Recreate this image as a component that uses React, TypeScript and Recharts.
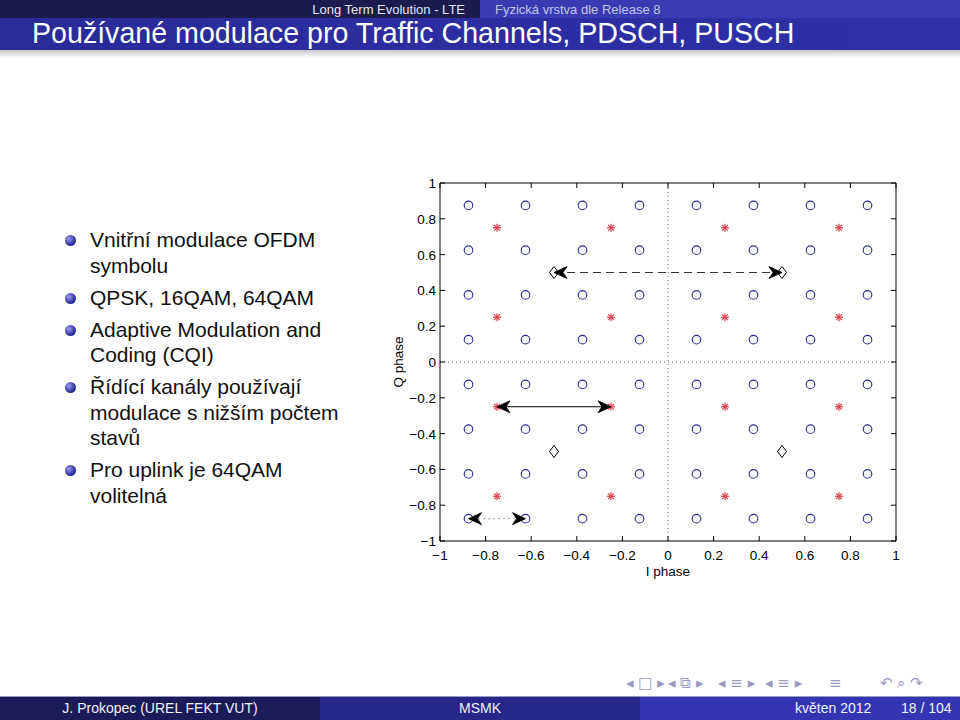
import {
  ReferenceLine,
  Scatter,
  ScatterChart,
  XAxis,
  YAxis,
} from "recharts";

// constellation levels (I and Q use the same set)
const qam64Levels = [-0.875, -0.625, -0.375, -0.125, 0.125, 0.375, 0.625, 0.875];
const qam16Levels = [-0.75, -0.25, 0.25, 0.75];
const qpskLevels = [-0.5, 0.5];

// double arrows drawn over the plot: dir is where each head points
const arrowDashed = [
  { x: -0.5, y: 0.5, dir: -1 },
  { x: 0.5, y: 0.5, dir: 1 },
];
const arrowSolid = [
  { x: -0.75, y: -0.25, dir: -1 },
  { x: -0.25, y: -0.25, dir: 1 },
];
const arrowDotted = [
  { x: -0.875, y: -0.875, dir: -1 },
  { x: -0.625, y: -0.875, dir: 1 },
];

const axisTicks = [-1, -0.8, -0.6, -0.4, -0.2, 0, 0.2, 0.4, 0.6, 0.8, 1];

const bullets = [
  ["Vnitřní modulace OFDM", "symbolu"],
  ["QPSK, 16QAM, 64QAM"],
  ["Adaptive Modulation and", "Coding (CQI)"],
  ["Řídící kanály používají", "modulace s nižším počtem", "stavů"],
  ["Pro uplink je 64QAM", "volitelná"],
];

// beamer navigation symbols: [left x, glyphs]
const navGroups: [number, string][] = [
  [626, "◂ □ ▸"],
  [668, "◂ ⧉ ▸"],
  [718, "◂ ≡ ▸"],
  [765, "◂ ≡ ▸"],
  [829, "≡"],
  [880, "↶ ⌕ ↷"],
];

const grid = (levels: number[]) =>
  levels.flatMap((i) => levels.map((q) => ({ x: i, y: q })));

const fmt = (v: number) =>
  v === 0 ? "0" : (v < 0 ? "\u2212" : "") + String(Math.abs(v));

const SANS = '"Liberation Sans", Arial, Helvetica, sans-serif';
const TICK = 5;
const FS = 13.5;

// MATLAB style: ticks point into the box, labels outside
const BottomTick = (p: any) => (
  <g>
    <line x1={p.x} y1={p.y} x2={p.x} y2={p.y - TICK} stroke="#000" />
    <text x={p.x} y={p.y + 19} textAnchor="middle" fontSize={FS} fontFamily={SANS} fill="#000">
      {fmt(p.payload.value)}
    </text>
  </g>
);
const LeftTick = (p: any) => (
  <g>
    <line x1={p.x} y1={p.y} x2={p.x + TICK} y2={p.y} stroke="#000" />
    <text x={p.x - 4} y={p.y + 5} textAnchor="end" fontSize={FS} fontFamily={SANS} fill="#000">
      {fmt(p.payload.value)}
    </text>
  </g>
);
const TopTick = (p: any) => (
  <line x1={p.x} y1={p.y} x2={p.x} y2={p.y + TICK} stroke="#000" />
);
const RightTick = (p: any) => (
  <line x1={p.x} y1={p.y} x2={p.x - TICK} y2={p.y} stroke="#000" />
);

const Ring = (p: any) => (
  <circle cx={p.cx} cy={p.cy} r={4.3} fill="none" stroke="#2b2b8f" strokeWidth={1.1} />
);

const Star = (p: any) => {
  const { cx, cy } = p;
  const a = 4;
  const d = 2.9;
  return (
    <g stroke="#dc3c4c" strokeWidth={1.2}>
      <line x1={cx - a} y1={cy} x2={cx + a} y2={cy} />
      <line x1={cx} y1={cy - a} x2={cx} y2={cy + a} />
      <line x1={cx - d} y1={cy - d} x2={cx + d} y2={cy + d} />
      <line x1={cx - d} y1={cy + d} x2={cx + d} y2={cy - d} />
    </g>
  );
};

const Diamond = (p: any) => {
  const { cx, cy } = p;
  return (
    <path
      d={`M${cx},${cy - 6}L${cx + 4.5},${cy}L${cx},${cy + 6}L${cx - 4.5},${cy}Z`}
      fill="#fff"
      stroke="#000"
      strokeWidth={1}
    />
  );
};

const Head = (p: any) => {
  const { cx, cy } = p;
  const s = p.payload?.dir ?? p.dir ?? 1;
  return (
    <path
      d={`M${cx},${cy}L${cx - s * 13},${cy - 6}L${cx - s * 9},${cy}L${cx - s * 13},${cy + 6}Z`}
      fill="#000"
      stroke="#000"
      strokeWidth={0.8}
    />
  );
};

function Constellation() {
  const common = {
    type: "number" as const,
    domain: [-1, 1] as [number, number],
    ticks: axisTicks,
    interval: 0 as const,
    tickSize: 0,
    tickMargin: 0,
    tickLine: false,
    stroke: "#000",
    allowDataOverflow: true,
  };
  return (
    <ScatterChart
      width={540}
      height={420}
      margin={{ top: 12, right: 23, bottom: 0, left: 0 }}
    >
      <XAxis
        {...common}
        xAxisId="b"
        dataKey="x"
        height={49}
        tick={BottomTick}
        label={{
          value: "I phase",
          position: "insideBottom",
          offset: 14,
          fill: "#000",
          fontSize: FS,
          fontFamily: SANS,
        }}
      />
      <XAxis {...common} xAxisId="t" orientation="top" dataKey="x" height={1} tick={TopTick} />
      <YAxis
        {...common}
        yAxisId="l"
        dataKey="y"
        width={60}
        tick={LeftTick}
        label={{
          value: "Q phase",
          angle: -90,
          position: "insideLeft",
          offset: 18,
          fill: "#000",
          fontSize: FS,
          fontFamily: SANS,
          style: { textAnchor: "middle" },
        }}
      />
      <YAxis {...common} yAxisId="r" orientation="right" dataKey="y" width={1} tick={RightTick} />
      <ReferenceLine xAxisId="b" yAxisId="l" x={0} stroke="#666" strokeDasharray="1 3" />
      <ReferenceLine xAxisId="b" yAxisId="l" y={0} stroke="#666" strokeDasharray="1 3" />
      <Scatter xAxisId="b" yAxisId="l" data={grid(qam64Levels)} shape={Ring} isAnimationActive={false} />
      <Scatter xAxisId="b" yAxisId="l" data={grid(qam16Levels)} shape={Star} isAnimationActive={false} />
      <Scatter xAxisId="b" yAxisId="l" data={grid(qpskLevels)} shape={Diamond} isAnimationActive={false} />
      <Scatter
        xAxisId="b"
        yAxisId="l"
        data={arrowDashed}
        shape={Head}
        line={{ stroke: "#333", strokeWidth: 1, strokeDasharray: "8 5" }}
        isAnimationActive={false}
      />
      <Scatter
        xAxisId="b"
        yAxisId="l"
        data={arrowSolid}
        shape={Head}
        line={{ stroke: "#000", strokeWidth: 1 }}
        isAnimationActive={false}
      />
      <Scatter
        xAxisId="b"
        yAxisId="l"
        data={arrowDotted}
        shape={Head}
        line={{ stroke: "#444", strokeWidth: 1, strokeDasharray: "1 4" }}
        isAnimationActive={false}
      />
    </ScatterChart>
  );
}

export default function App() {
  return (
    <div
      style={{
        position: "absolute",
        left: 0,
        top: 0,
        width: 960,
        height: 720,
        background: "#fff",
        fontFamily: SANS,
        overflow: "hidden",
      }}
    >
      {/* headline */}
      <div style={{ position: "absolute", left: 0, top: 0, width: 480, height: 18, background: "#1b1b4e" }} />
      <div style={{ position: "absolute", left: 480, top: 0, width: 480, height: 18, background: "#3a3ab4" }} />
      <div
        style={{
          position: "absolute",
          right: 495,
          top: 2,
          fontSize: 13,
          color: "#e6e6f2",
          whiteSpace: "nowrap",
        }}
      >
        Long Term Evolution - LTE
      </div>
      <div
        style={{
          position: "absolute",
          left: 495,
          top: 2,
          fontSize: 13,
          color: "#c4c4e4",
          whiteSpace: "nowrap",
        }}
      >
        Fyzická vrstva dle Release 8
      </div>
      {/* frame title */}
      <div
        style={{
          position: "absolute",
          left: 0,
          top: 18,
          width: 960,
          height: 32,
          background: "linear-gradient(90deg, #2a2a98, #3030a8)",
        }}
      />
      <div
        style={{
          position: "absolute",
          left: 0,
          top: 50,
          width: 960,
          height: 8,
          background: "linear-gradient(180deg, #c8c8cc, #ffffff)",
        }}
      />
      <div
        style={{
          position: "absolute",
          left: 32,
          top: 17,
          fontSize: 28.6,
          lineHeight: "32px",
          color: "#fff",
          whiteSpace: "nowrap",
        }}
      >
        Používané modulace pro Traffic Channels, PDSCH, PUSCH
      </div>

      {/* bullets */}
      <div style={{ position: "absolute", left: 62, top: 227 }}>
        {bullets.map((item, i) => (
          <div key={i} style={{ display: "flex", marginBottom: 6.5 }}>
            <div style={{ width: 28, position: "relative" }}>
              <div
                style={{
                  position: "absolute",
                  left: 3,
                  top: 8,
                  width: 11,
                  height: 11,
                  borderRadius: "50%",
                  background: "radial-gradient(circle at 35% 35%, #9c9cf0, #3030a0 60%, #1a1a60)",
                }}
              />
            </div>
            <div style={{ fontSize: 21, lineHeight: "25.5px", color: "#111" }}>
              {item.map((line, j) => (
                <div key={j} style={{ whiteSpace: "nowrap" }}>
                  {line}
                </div>
              ))}
            </div>
          </div>
        ))}
      </div>

      {/* chart */}
      <div style={{ position: "absolute", left: 380, top: 170 }}>
        <Constellation />
      </div>

      {/* navigation symbols */}
      {navGroups.map(([x, g]) => (
        <div
          key={x}
          style={{
            position: "absolute",
            left: x,
            top: 674,
            fontSize: 15,
            color: "#9898c0",
            fontFamily: '"DejaVu Sans", sans-serif',
            whiteSpace: "nowrap",
          }}
        >
          {g}
        </div>
      ))}

      {/* footline */}
      <div style={{ position: "absolute", left: 0, top: 697, width: 320, height: 23, background: "#1b1b58" }} />
      <div style={{ position: "absolute", left: 320, top: 697, width: 320, height: 23, background: "#27278a" }} />
      <div style={{ position: "absolute", left: 640, top: 697, width: 320, height: 23, background: "#3535b4" }} />
      <div style={{ position: "absolute", left: 0, top: 696, width: 960, height: 1, background: "#9a9ac0" }} />
      <div style={{ position: "absolute", left: 0, top: 700, width: 320, textAlign: "center", fontSize: 14, color: "#f0f0f8" }}>
        J. Prokopec (UREL FEKT VUT)
      </div>
      <div style={{ position: "absolute", left: 320, top: 700, width: 320, textAlign: "center", fontSize: 14, color: "#f0f0f8" }}>
        MSMK
      </div>
      <div style={{ position: "absolute", left: 795, top: 700, fontSize: 14, color: "#f0f0f8", whiteSpace: "nowrap" }}>
        květen 2012
      </div>
      <div style={{ position: "absolute", left: 901, top: 700, fontSize: 14, color: "#f0f0f8", whiteSpace: "nowrap" }}>
        18 / 104
      </div>
    </div>
  );
}
